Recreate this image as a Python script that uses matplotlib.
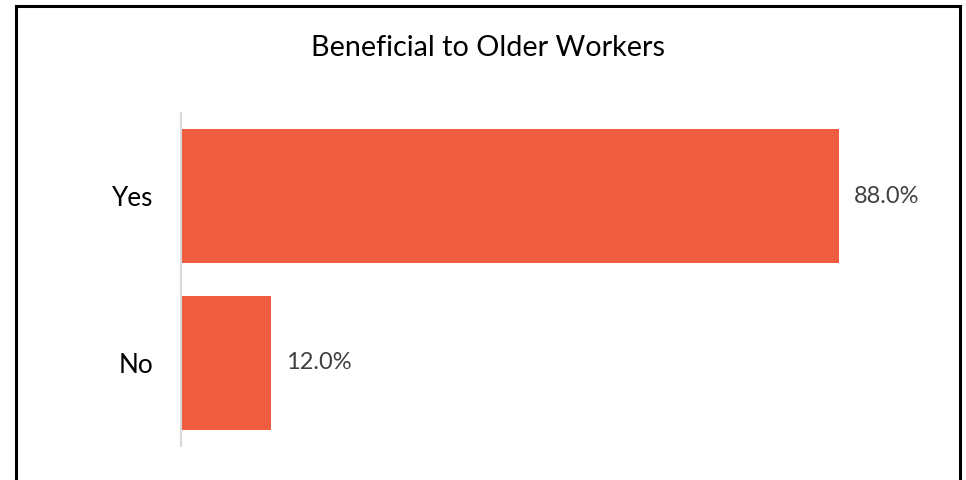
import matplotlib
matplotlib.use("Agg")
import matplotlib.pyplot as plt
from matplotlib.lines import Line2D

categories = ["Yes", "No"]
values = [88.0, 12.0]
title = "Beneficial to Older Workers"

W, H = 966, 480
fig = plt.figure(figsize=(W/100, H/100), dpi=100)
plt.rcParams['font.family'] = ['Lato', 'DejaVu Sans']

# axes: left 181, right 929, top 113, bottom 446 (pixels)
ax = fig.add_axes([181/W, 1-446/H, (929-181)/W, (446-113)/H])
ypos = [1, 0]
ax.barh(ypos, values, height=0.805, color="#F05C40")
ax.set_xlim(0, 100)
ax.set_ylim(-0.5, 1.5)
ax.set_yticks(ypos)
ax.set_yticklabels(categories, fontsize=18.8, color="black")
ax.tick_params(axis='y', length=0, pad=20)
ax.set_xticks([])
for s in ["top", "right", "bottom"]:
    ax.spines[s].set_visible(False)
ax.spines["left"].set_color("#D9D9D9")
ax.spines["left"].set_linewidth(1.5)
for y, v in zip(ypos, values):
    ax.text(v + 2.0, y, f"{v:.1f}%", va="center", ha="left", fontsize=17, color="#404040")

fig.text(488/W, 1-48/H, title, ha="center", va="center", fontsize=20.7, color="black")

# outer frame
lw = 2.2
fig.add_artist(Line2D([16/W, 16/W], [0, 1-6/H], color="black", lw=lw))
fig.add_artist(Line2D([960/W, 960/W], [0, 1-6/H], color="black", lw=lw))
fig.add_artist(Line2D([16/W, 960/W], [1-6/H, 1-6/H], color="black", lw=lw))

fig.savefig("out.png", dpi=100)
